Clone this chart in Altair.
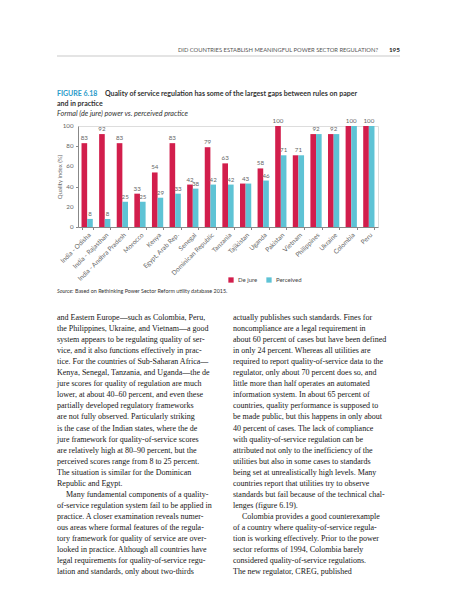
import altair as alt
import pandas as pd

countries = ["India - Odisha", "India - Rajasthan", "India - Andhra Pradesh", "Morocco", "Kenya",
             "Egypt, Arab Rep.", "Senegal", "Dominican Republic", "Tanzania", "Tajikistan", "Uganda",
             "Pakistan", "Vietnam", "Philippines", "Ukraine", "Colombia", "Peru"]
de_jure = [83, 92, 83, 33, 54, 83, 42, 79, 63, 43, 58, 100, 71, 92, 92, 100, 100]
perceived = [8, 8, 25, 25, 29, 33, 38, 42, 42, 43, 46, 71, 71, 92, 92, 100, 100]
series = ["De jure", "Perceived"]
colors = ["#D21E4C", "#5EC3D5"]
y_ticks = [0, 20, 40, 60, 80, 100]

left_col = [
    "and Eastern Europe\u2014such as Colombia, Peru,",
    "the Philippines, Ukraine, and Vietnam\u2014a good",
    "system appears to be regulating quality of ser-",
    "vice, and it also functions effectively in prac-",
    "tice. For the countries of Sub-Saharan Africa\u2014",
    "Kenya, Senegal, Tanzania, and Uganda\u2014the de",
    "jure scores for quality of regulation are much",
    "lower, at about 40\u201360 percent, and even these",
    "partially developed regulatory frameworks",
    "are not fully observed. Particularly striking",
    "is the case of the Indian states, where the de",
    "jure framework for quality-of-service scores",
    "are relatively high at 80\u201390 percent, but the",
    "perceived scores range from 8 to 25 percent.",
    "The situation is similar for the Dominican",
    "Republic and Egypt.",
    "Many fundamental components of a quality-",
    "of-service regulation system fail to be applied in",
    "practice. A closer examination reveals numer-",
    "ous areas where formal features of the regula-",
    "tory framework for quality of service are over-",
    "looked in practice. Although all countries have",
    "legal requirements for quality-of-service regu-",
    "lation and standards, only about two-thirds",
]
left_indent = [16]
right_col = [
    "actually publishes such standards. Fines for",
    "noncompliance are a legal requirement in",
    "about 60 percent of cases but have been defined",
    "in only 24 percent. Whereas all utilities are",
    "required to report quality-of-service data to the",
    "regulator, only about 70 percent does so, and",
    "little more than half operates an automated",
    "information system. In about 65 percent of",
    "countries, quality performance is supposed to",
    "be made public, but this happens in only about",
    "40 percent of cases. The lack of compliance",
    "with quality-of-service regulation can be",
    "attributed not only to the inefficiency of the",
    "utilities but also in some cases to standards",
    "being set at unrealistically high levels. Many",
    "countries report that utilities try to observe",
    "standards but fail because of the technical chal-",
    "lenges (figure 6.19).",
    "Colombia provides a good counterexample",
    "of a country where quality-of-service regula-",
    "tion is working effectively. Prior to the power",
    "sector reforms of 1994, Colombia barely",
    "considered quality-of-service regulations.",
    "The new regulator, CREG, published",
]
right_indent = [18]

header_text = "DID COUNTRIES ESTABLISH MEANINGFUL POWER SECTOR REGULATION?"
page_no = "195"
fig_label = "FIGURE 6.18"
title_l1 = "Quality of service regulation has some of the largest gaps between rules on paper"
title_l2 = "and in practice"
subtitle = "Formal (de jure) power vs. perceived practice"
source_it = "Source:"
source_rest = "Based on Rethinking Power Sector Reform utility database 2015."

# ---- layout (page coordinates -> view coordinates) ----
OX, OY = 78, 126  # page position of plot origin
W, H = 300, 101

rows = []
for c, dj, pc in zip(countries, de_jure, perceived):
    rows.append({"country": c, "type": "De jure", "value": dj})
    rows.append({"country": c, "type": "Perceived", "value": pc})
bars_df = pd.DataFrame(rows)

same_set = {c for c, dj, pc in zip(countries, de_jure, perceived) if dj == pc}
lab_diff = pd.DataFrame([r for r in rows if r["country"] not in same_set])
lab_same = pd.DataFrame([{"country": c, "value": dj} for c, dj, pc in zip(countries, de_jure, perceived) if dj == pc])

FONT = "Lato"
LABC = "#666"
xenc = alt.X("country:N", sort=countries, title=None,
             scale=alt.Scale(paddingInner=0.36, paddingOuter=0.2),
             axis=alt.Axis(labelAngle=-45, labelAlign="right", labelBaseline="top", tickBand="extent",
                           labelFontSize=6.5, labelColor=LABC, domainColor="#888", tickColor="#888",
                           tickSize=2.5, labelPadding=2, labelFont=FONT, labelOverlap=False))
yenc = alt.Y("value:Q", title="Quality index (%)",
             scale=alt.Scale(domain=[0, 100], nice=False),
             axis=alt.Axis(values=y_ticks, grid=False, labels=False,
                           domainColor="#888", tickColor="#888", tickSize=2.5,
                           titleFontSize=6, titleFontWeight="normal", titleColor=LABC, titleFont=FONT,
                           titlePadding=13))

bars = alt.Chart(bars_df).mark_bar().encode(
    x=xenc, y=yenc,
    xOffset=alt.XOffset("type:N", sort=series, scale=alt.Scale(paddingInner=0)),
    color=alt.Color("type:N", sort=series, scale=alt.Scale(domain=series, range=colors),
                    legend=alt.Legend(title=None, orient="none", direction="horizontal",
                                      legendX=150, legendY=151, symbolType="square", symbolSize=28,
                                      labelFontSize=6, labelColor="#444", labelFont=FONT,
                                      columnPadding=8, symbolStrokeWidth=0)),
)

ytick_labels = alt.Chart(pd.DataFrame({"v": y_ticks})).mark_text(
    align="right", baseline="middle", fontSize=6.2, color=LABC, font=FONT).encode(
    y="v:Q", x=alt.value(-4.5), text="v:Q")

labels1 = alt.Chart(lab_diff).mark_text(dy=-5, fontSize=6.2, color=LABC, font=FONT).encode(
    x=alt.X("country:N", sort=countries),
    xOffset=alt.XOffset("type:N", sort=series),
    y="value:Q", text="value:Q")
labels2 = alt.Chart(lab_same).mark_text(dy=-5, fontSize=6.2, color=LABC, font=FONT).encode(
    x=alt.X("country:N", sort=countries), y="value:Q", text="value:Q")


def text_layer(items, **kw):
    df = pd.DataFrame(items, columns=["px", "py", "t"])
    return alt.Chart(df).mark_text(baseline="middle", **kw).encode(
        x=alt.X("px:Q", scale=None, axis=None),
        y=alt.Y("py:Q", scale=None, axis=None),
        text="t:N")


LINE = 11.05
body_items = []
for i, t in enumerate(left_col):
    ind = 9 if i in left_indent else 0
    body_items.append((57 + ind - OX, 318 + i * LINE - OY, t))
for i, t in enumerate(right_col):
    ind = 9 if i in right_indent else 0
    body_items.append((233 + ind - OX, 318 + i * LINE - OY, t))
body = text_layer(body_items, align="left", font="Liberation Serif", fontSize=8, color="#151515")

header = text_layer([(378 - OX, 50 - OY, header_text)], align="right", font=FONT, fontSize=5.8, color="#555")
pno = text_layer([(400 - OX, 50 - OY, page_no)], align="right", font=FONT, fontSize=6.4,
                 fontWeight="bold", color="#222")
figlab = text_layer([(57 - OX, 94 - OY, fig_label)], align="left", font=FONT, fontSize=7,
                    fontWeight="bold", color="#2A9BC9")
title = text_layer([(105 - OX, 94 - OY, title_l1), (57 - OX, 103.5 - OY, title_l2)], align="left",
                   font=FONT, fontSize=7, fontWeight="bold", color="#333")
sub = text_layer([(57 - OX, 114 - OY, subtitle)], align="left", font=FONT, fontSize=7.2,
                 fontStyle="italic", color="#333")
src1 = text_layer([(57 - OX, 291 - OY, source_it)], align="left", font=FONT, fontSize=5.4,
                  fontStyle="italic", color="#333")
src2 = text_layer([(75 - OX, 291 - OY, source_rest)], align="left", font=FONT, fontSize=5.4, color="#333")

rule = alt.Chart(pd.DataFrame({"a": [0]})).mark_rule(color="#bbb", strokeWidth=0.8).encode(
    x=alt.value(57 - OX), x2=alt.value(400 - OX), y=alt.value(56 - OY))

chart = alt.layer(bars, ytick_labels, labels1, labels2, body, header, pno, figlab, title, sub,
                  src1, src2, rule).properties(
    width=W, height=H,
    padding={"left": OX - 8, "top": OY - 8, "right": 441 - (OX - 8) - W, "bottom": 580 - (OY - 8) - H},
    autosize=alt.AutoSizeParams(type="none"),
).configure_view(stroke=None).configure(background="white")

chart.save("out.html", embed_options={"renderer": "svg", "actions": False})
